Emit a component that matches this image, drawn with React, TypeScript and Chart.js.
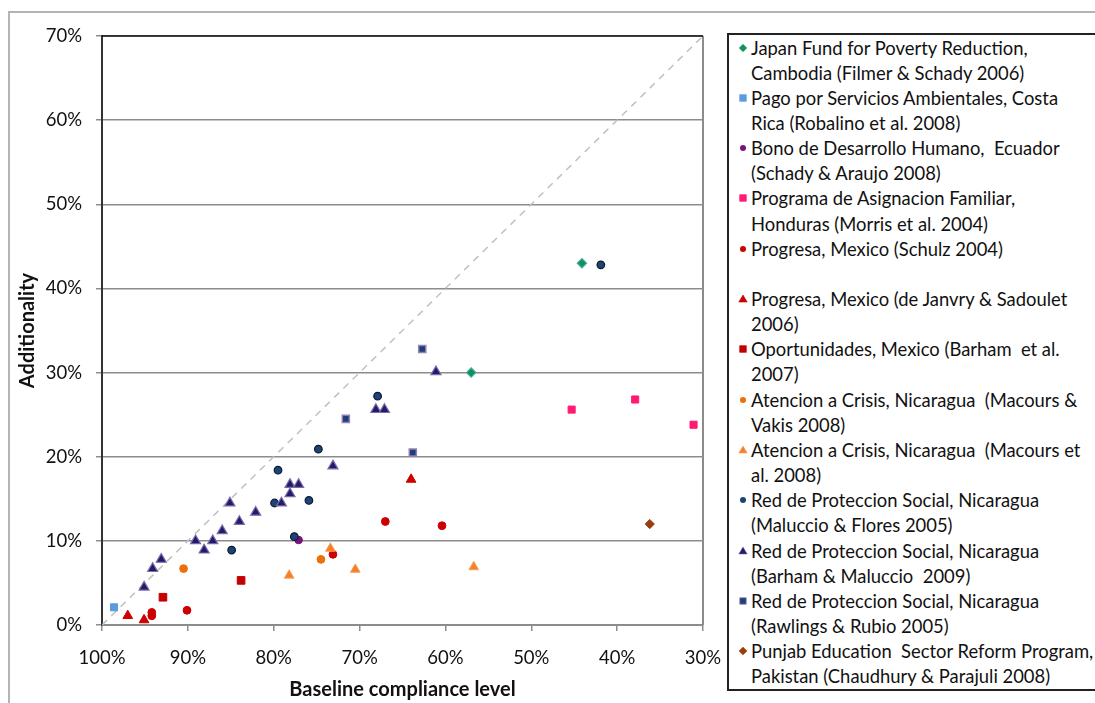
import React, { useEffect, useRef } from "react";
import { Chart, registerables } from "chart.js";

Chart.register(...registerables);

// ---- Data (x = baseline compliance %, y = additionality %) ----
const japanX = [44.1, 57.0];
const japanY = [43.0, 30.0];

const pagoX = [98.6];
const pagoY = [2.1];

const bonoX = [77.1];
const bonoY = [10.1];

const programaX = [45.3, 37.9, 31.1];
const programaY = [25.6, 26.8, 23.8];

const schulzX = [94.2, 94.2, 90.1, 73.1, 67.0, 60.4];
const schulzY = [1.1, 1.5, 1.75, 8.4, 12.3, 11.8];

const janvryX = [97.0, 95.1, 64.0];
const janvryY = [1.1, 0.6, 17.3];

const oportX = [92.9, 83.8];
const oportY = [3.3, 5.3];

const vakisX = [90.5, 74.5];
const vakisY = [6.7, 7.8];

const macoursX = [78.2, 73.4, 70.5, 56.7];
const macoursY = [5.9, 9.1, 6.6, 6.9];

const maluccioX = [84.9, 79.9, 79.5, 75.9, 74.8, 77.6, 67.9, 41.9];
const maluccioY = [8.9, 14.5, 18.4, 14.8, 20.9, 10.5, 27.2, 42.8];

const barhamX = [95.1, 94.1, 93.1, 89.1, 88.1, 87.1, 86.0, 85.1, 84.0, 82.1, 79.1, 78.1, 78.1, 77.1, 73.1, 68.1, 67.1, 61.1];
const barhamY = [4.5, 6.7, 7.8, 10.0, 8.9, 10.0, 11.2, 14.5, 12.3, 13.4, 14.5, 15.6, 16.7, 16.7, 18.9, 25.6, 25.6, 30.1];

const rawlingsX = [71.6, 62.7, 63.8];
const rawlingsY = [24.5, 32.8, 20.5];

const punjabX = [36.2];
const punjabY = [12.0];

const diagonalX = [100, 30];
const diagonalY = [0, 70];

const xTicks = [100, 90, 80, 70, 60, 50, 40, 30];
const yTicks = [0, 10, 20, 30, 40, 50, 60, 70];

const seriesLabels = [
  "Japan Fund for Poverty Reduction,\nCambodia (Filmer & Schady 2006)",
  "Pago por Servicios Ambientales, Costa\nRica (Robalino et al. 2008)",
  "Bono de Desarrollo Humano,  Ecuador\n(Schady & Araujo 2008)",
  "Programa de Asignacion Familiar,\nHonduras (Morris et al. 2004)",
  "Progresa, Mexico (Schulz 2004)",
  "Progresa, Mexico (de Janvry & Sadoulet\n2006)",
  "Oportunidades, Mexico (Barham  et al.\n2007)",
  "Atencion a Crisis, Nicaragua  (Macours &\nVakis 2008)",
  "Atencion a Crisis, Nicaragua  (Macours et\nal. 2008)",
  "Red de Proteccion Social, Nicaragua\n(Maluccio & Flores 2005)",
  "Red de Proteccion Social, Nicaragua\n(Barham & Maluccio  2009)",
  "Red de Proteccion Social, Nicaragua\n(Rawlings & Rubio 2005)",
  "Punjab Education  Sector Reform Program,\nPakistan (Chaudhury & Parajuli 2008)",
];

type Style = { shape: string; fill: string; stroke: string; r: number; bw: number };

const styles: Style[] = [
  { shape: "rectRot", fill: "#12953f", stroke: "#3fa3b5", r: 4.6, bw: 1.2 },
  { shape: "rect", fill: "#5b9bdf", stroke: "#5b9bdf", r: 5, bw: 1 },
  { shape: "circle", fill: "#7a137e", stroke: "#7a137e", r: 3.8, bw: 1 },
  { shape: "rect", fill: "#ff1a72", stroke: "#ff1a72", r: 5, bw: 1 },
  { shape: "circle", fill: "#cc0000", stroke: "#cc0000", r: 3.9, bw: 1 },
  { shape: "triangle", fill: "#cc0000", stroke: "#cc0000", r: 5.6, bw: 1 },
  { shape: "rect", fill: "#c40000", stroke: "#c40000", r: 5.4, bw: 1 },
  { shape: "circle", fill: "#ea700c", stroke: "#ea700c", r: 3.9, bw: 1 },
  { shape: "triangle", fill: "#f4802a", stroke: "#f6a060", r: 5.6, bw: 1 },
  { shape: "circle", fill: "#1f4373", stroke: "#0b1a33", r: 3.8, bw: 1.2 },
  { shape: "triangle", fill: "#1d1d6b", stroke: "#7f6aa8", r: 5.8, bw: 1.2 },
  { shape: "rect", fill: "#1f3f73", stroke: "#9380b8", r: 5, bw: 1.5 },
  { shape: "rectRot", fill: "#9a3c0c", stroke: "#9a3c0c", r: 4.6, bw: 1 },
];

const seriesX = [japanX, pagoX, bonoX, programaX, schulzX, janvryX, oportX, vakisX, macoursX, maluccioX, barhamX, rawlingsX, punjabX];
const seriesY = [japanY, pagoY, bonoY, programaY, schulzY, janvryY, oportY, vakisY, macoursY, maluccioY, barhamY, rawlingsY, punjabY];

const FONT = "Lato, 'Noto Sans', sans-serif";

function Marker({ s }: { s: Style }) {
  const c = 6;
  let el: React.ReactNode = null;
  if (s.shape === "circle") el = <circle cx={c} cy={c} r={3} fill={s.fill} />;
  else if (s.shape === "rect") el = <rect x={c - 3.2} y={c - 3.2} width={6.4} height={6.4} fill={s.fill} stroke={s.stroke} strokeWidth={0.8} />;
  else if (s.shape === "rectRot")
    el = <polygon points={`${c},${c - 3.8} ${c + 3.8},${c} ${c},${c + 3.8} ${c - 3.8},${c}`} fill={s.fill} stroke={s.stroke} strokeWidth={0.8} />;
  else el = <polygon points={`${c},${c - 4} ${c + 4.2},${c + 3} ${c - 4.2},${c + 3}`} fill={s.fill} stroke={s.stroke} strokeWidth={0.6} />;
  return (
    <svg width={12} height={12} style={{ position: "absolute", left: 8, top: 6 }}>
      {el}
    </svg>
  );
}

export default function App() {
  const ref = useRef<HTMLCanvasElement | null>(null);

  useEffect(() => {
    if (!ref.current) return;
    const datasets: any[] = seriesLabels.map((label, i) => ({
      label,
      data: seriesX[i].map((x, j) => ({ x, y: seriesY[i][j] })),
      pointStyle: styles[i].shape,
      backgroundColor: styles[i].fill,
      borderColor: styles[i].stroke,
      borderWidth: styles[i].bw,
      pointRadius: styles[i].r,
      pointHoverRadius: styles[i].r,
      order: 13 - i,
    }));
    datasets.push({
      label: "diagonal",
      data: diagonalX.map((x, j) => ({ x, y: diagonalY[j] })),
      showLine: true,
      borderColor: "#c0c0c0",
      borderWidth: 1.5,
      borderDash: [7, 6],
      pointRadius: 0,
      order: 100,
    });

    const framePlugin = {
      id: "frame",
      afterDraw(chart: any) {
        const { ctx, chartArea } = chart;
        ctx.save();
        ctx.strokeStyle = "#8c8c8c";
        ctx.lineWidth = 2;
        ctx.beginPath();
        ctx.moveTo(chartArea.right, chartArea.top);
        ctx.lineTo(chartArea.right, chartArea.bottom);
        ctx.stroke();
        ctx.strokeStyle = "#111";
        ctx.lineWidth = 1.5;
        ctx.beginPath();
        ctx.moveTo(chartArea.left, chartArea.top);
        ctx.lineTo(chartArea.right, chartArea.top);
        ctx.stroke();
        ctx.restore();
      },
    };

    const chart = new Chart(ref.current, {
      type: "scatter",
      data: { datasets },
      plugins: [framePlugin],
      options: {
        animation: false,
        responsive: false,
        maintainAspectRatio: false,
        events: [],
        layout: { padding: { left: 0, top: 36, right: 392, bottom: 0 } },
        plugins: { legend: { display: false }, tooltip: { enabled: false } },
        scales: {
          x: {
            type: "linear",
            reverse: true,
            min: 30,
            max: 100,
            afterBuildTicks(scale: any) {
              scale.ticks = xTicks.map((v) => ({ value: v }));
            },
            afterFit(scale: any) {
              scale.height = 78;
            },
            ticks: {
              stepSize: 10,
              padding: 16,
              maxRotation: 0,
              autoSkip: false,
              color: "#111",
              font: { family: FONT, size: 18.5 },
              callback: (v: any) => v + "%",
            },
            grid: { drawOnChartArea: false, drawTicks: true, tickLength: 6, color: "#8c8c8c", lineWidth: 1.5 },
            border: { display: true, color: "#8c8c8c", width: 2 },
            title: {
              display: true,
              text: "Baseline compliance level",
              color: "#111",
              font: { family: FONT, size: 20, weight: "bold" },
              padding: { top: 2, bottom: 1 },
            },
          },
          y: {
            type: "linear",
            min: 0,
            max: 70,
            afterBuildTicks(scale: any) {
              scale.ticks = yTicks.map((v) => ({ value: v }));
            },
            afterFit(scale: any) {
              scale.width = 102;
            },
            ticks: {
              stepSize: 10,
              padding: 14,
              color: "#111",
              font: { family: FONT, size: 18.5 },
              callback: (v: any) => v + "%",
            },
            grid: { drawOnChartArea: true, drawTicks: true, tickLength: 6, color: "#8c8c8c", lineWidth: 1.5 },
            border: { display: true, color: "#333", width: 2 },
            title: {
              display: true,
              text: "Additionality",
              color: "#111",
              font: { family: FONT, size: 20, weight: "bold" },
              padding: { top: 16, bottom: 2 },
            },
          },
        },
      } as any,
    });
    return () => chart.destroy();
  }, []);

  return (
    <div style={{ position: "absolute", left: 0, top: 0, width: 1095, height: 703, overflow: "hidden", background: "#fff" }}>
      <div style={{ position: "absolute", left: 8, top: 11, width: 1200, height: 800, border: "2px solid #b4b4b4", boxSizing: "border-box" }} />
      <canvas ref={ref} width={1095} height={703} style={{ position: "absolute", left: 0, top: 0, width: 1095, height: 703 }} />
      <div
        style={{
          position: "absolute",
          left: 727,
          top: 33,
          width: 400,
          height: 658,
          border: "2px solid #222",
          boxSizing: "border-box",
          background: "#fff",
          fontFamily: FONT,
          fontSize: 18.4,
          color: "#111",
        }}
      >
        {seriesLabels.map((label, i) => (
          <div key={i} style={{ position: "absolute", left: 0, top: 0.5 + i * 50.3, height: 50.3, width: 380 }}>
            <Marker s={styles[i]} />
            <div style={{ position: "absolute", left: 22, top: 0, whiteSpace: "pre", lineHeight: "25.15px" }}>{label}</div>
          </div>
        ))}
      </div>
    </div>
  );
}
